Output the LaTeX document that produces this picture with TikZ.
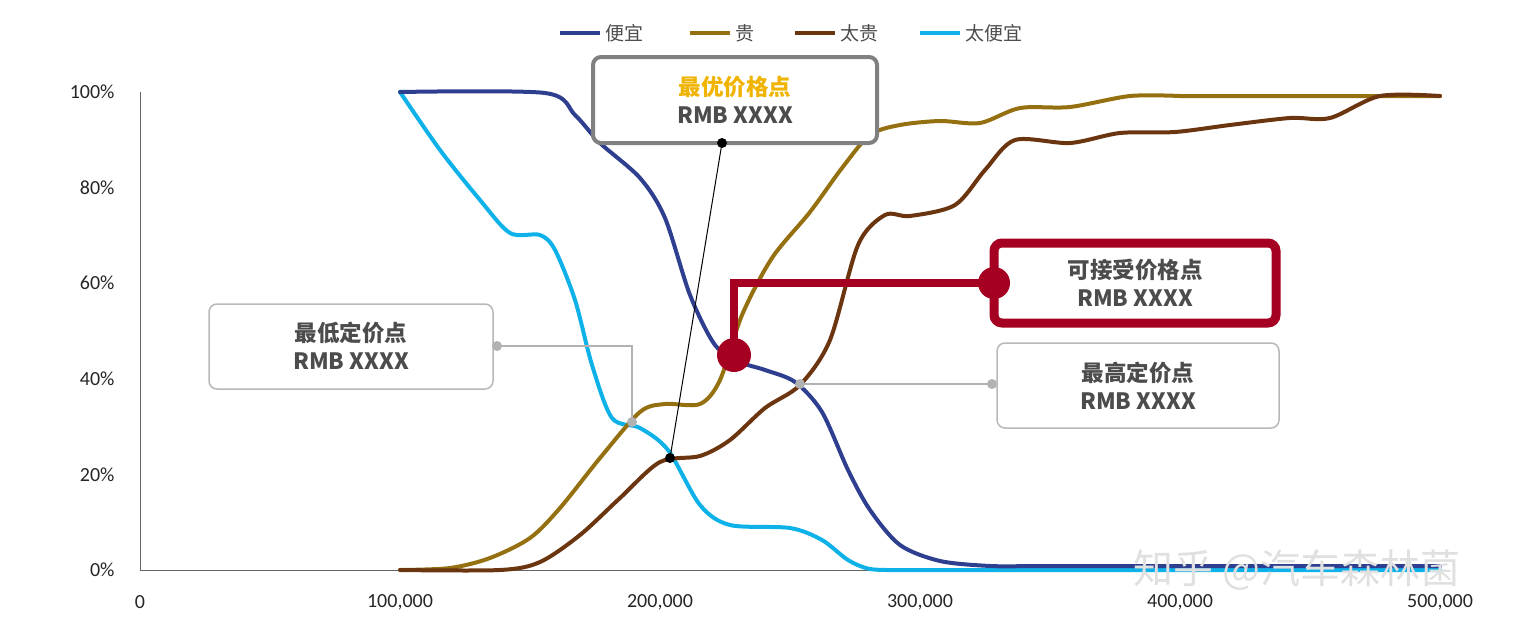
\documentclass[tikz,border=0pt]{standalone}
\usepackage{fontspec}
\setmainfont{Carlito}
\newfontfamily\cjk{Noto Sans CJK SC}
\begin{document}
\begin{tikzpicture}[x=1pt,y=-1pt,
  cb/.style={line width=4pt,line join=round,line cap=round},
  lab/.style={font=\fontsize{19}{19}\selectfont\cjk,text=black!70},
  ax/.style={font=\fontsize{20}{20}\selectfont,text=black!85},
  bx/.style={draw,rounded corners=8pt,fill=white},
  tt/.style={font=\fontsize{22.5}{28}\selectfont\cjk\bfseries,text=black!70,align=center}]
\definecolor{cheap}{HTML}{2E3F8F}
\definecolor{exp}{HTML}{957011}
\definecolor{texp}{HTML}{6B3510}
\definecolor{tcheap}{HTML}{0FB2E8}
\definecolor{dred}{HTML}{A50021}
\useasboundingbox (0,0) rectangle (1522,637);
% axes
\draw[black!60,line width=1pt] (140,92) -- (140,570) -- (1440,570);
\foreach \y/\t [count=\i] in {570/0\%,474.4/20\%,378.8/40\%,283.2/60\%,187.6/80\%,92/100\%}
  \node[ax,anchor=east] (yl\i) at (118,\y) {\t};
\foreach \x/\t [count=\i] in {140/0,400/{100,000},660/{200,000},920/{300,000},1180/{400,000},1440/{500,000}}
  \node[ax] (xl\i) at (\x,602) {\t};
% curves
\draw[cb,tcheap] plot[smooth,tension=0.5] coordinates {(400,92)(440,150)(480,200)(510,233)(540,235)(555,250)(575,300)(592,365)(612,418)(640,428)(668,450)(700,505)(730,525)(790,528)(822,540)(848,560)(870,569)(900,570)} -- (1440,570);
\draw[cb,exp] plot[smooth,tension=0.5] coordinates {(400,570)(450,568)(490,558)(530,538)(560,508)(600,458)(640,412)(665,404)(700,404)(720,380)(742,315)(772,258)(810,212)(842,168)(870,135)(900,125)(940,121)(980,123)(1020,108)(1070,107)(1130,96)(1180,96)} -- (1440,96);
\draw[cb,texp] plot[smooth,tension=0.5] coordinates {(400,570)(500,570)(540,562)(580,535)(620,498)(660,462)(700,456)(730,440)(765,408)(800,385)(830,340)(858,245)(885,215)(910,216)(955,205)(985,170)(1015,140)(1070,143)(1120,133)(1175,132)(1230,125)(1290,118)(1330,118)(1380,96)(1440,96)};
\draw[cb,cheap] plot[smooth,tension=0.5] coordinates {(400,92)(545,93)(575,115)(600,143)(640,178)(665,218)(690,295)(715,345)(740,362)(765,370)(795,382)(822,412)(848,470)(870,510)(900,545)(940,561)(990,566)(1030,566)} -- (1440,566);
% legend
\foreach \x/\c/\t [count=\i] in {560/cheap/便宜,690/exp/贵,795/texp/太贵,920/tcheap/太便宜}{
  \draw[\c,line width=4pt] (\x,33) -- +(40,0);
  \node[lab,anchor=west] (lg\i) at (\x+42,33) {\t};}
% 最低定价点
\node[bx,draw=black!28,line width=1.5pt,minimum width=284pt,minimum height=85pt] (b1) at (351,346.5) {};
\node[tt] (t1) at (351,346) {最低定价点\\RMB XXXX};
\coordinate (p1a) at (497,346); \coordinate (p1b) at (632,422);
\draw[black!30,line width=1.2pt] (p1a) -| (p1b);
\fill[black!30] (p1a) circle (5pt) (p1b) circle (5pt);
% 最高定价点
\node[bx,draw=black!28,line width=1.5pt,minimum width=282pt,minimum height=85pt] (b2) at (1138,385.5) {};
\node[tt] (t2) at (1138,386) {最高定价点\\RMB XXXX};
\coordinate (p2a) at (992,384); \coordinate (p2b) at (800,384);
\draw[black!30,line width=1.2pt] (p2a) -- (p2b);
\fill[black!30] (p2a) circle (5pt) (p2b) circle (5pt);
% 最优价格点
\node[bx,draw=black!50,line width=4pt,minimum width=284pt,minimum height=86pt] (b3) at (735,100) {};
\node[tt] (t3) at (735,100) {\textcolor[HTML]{F0B400}{最优价格点}\\RMB XXXX};
\coordinate (p3a) at (722,143); \coordinate (p3b) at (670,458);
\draw[black,line width=1pt] (p3a) -- (p3b);
\fill[black] (p3a) circle (5pt) (p3b) circle (5pt);
% 可接受价格点
\node[bx,draw=dred,line width=9pt,minimum width=282pt,minimum height=80pt] (b4) at (1135,283) {};
\node[tt] (t4) at (1135,283) {可接受价格点\\RMB XXXX};
\coordinate (p4a) at (734,355); \coordinate (p4b) at (994,283);
\draw[dred,line width=8pt] (p4a) |- (p4b);
\fill[dred] (p4a) circle (17pt) (p4b) circle (16pt);
% watermark
\node[font=\fontsize{40}{40}\selectfont\cjk,text=black!12] (wm) at (1297,570) {知乎 @汽车森林菌};
\end{tikzpicture}
\end{document}
